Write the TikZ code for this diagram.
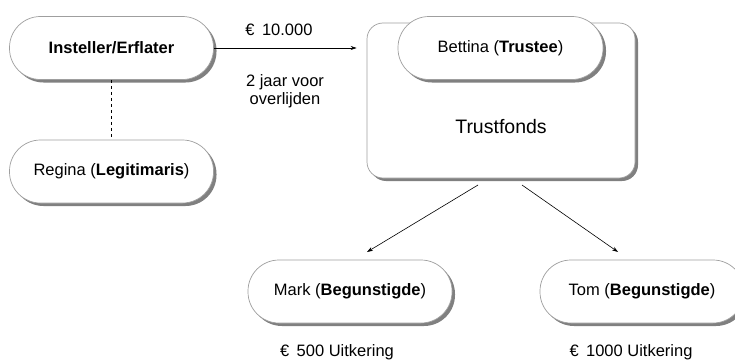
\documentclass[tikz,border=0pt]{standalone}
\usepackage{fontspec}
\setmainfont{Liberation Sans}
\usetikzlibrary{arrows.meta,calc}

\tikzset{
  every node/.style={font=\fontsize{16.5}{18}\selectfont},
  pill/.style={rectangle, rounded corners=31pt, minimum width=204pt, minimum height=63pt,
    draw=gray!75, line width=0.7pt, fill=white, inner sep=0pt,
    preaction={fill=black!50, transform canvas={shift={(3pt,-3pt)}}}},
  fund/.style={rectangle, rounded corners=16pt, minimum width=268pt, minimum height=155pt,
    draw=gray!75, line width=0.7pt, fill=white, inner sep=0pt,
    preaction={fill=black!50, transform canvas={shift={(3pt,-3pt)}}}},
  flow/.style={-{Stealth[length=6pt,width=4pt]}, line width=0.6pt},
  lbl/.style={align=center, inner sep=0pt}
}

\begin{document}
\begin{tikzpicture}[x=1pt,y=-1pt]
  \useasboundingbox (0,0) rectangle (735,361);

  % people and the trust fund
  \node[pill] (inst) at (111.5,48) {\textbf{Insteller/Erflater}};
  \node[pill] (regina) at (111.5,171.5) {Regina (\textbf{Legitimaris})};
  \node[fund] (trust) at (501,100.5) {};
  \node[lbl, font=\fontsize{19.5}{22}\selectfont] (fundname) at (501,127) {Trustfonds};
  \node[pill, minimum width=205pt] (bettina) at (500.5,48) {Bettina (\textbf{Trustee})};
  \node[pill] (mark) at (350,291.5) {Mark (\textbf{Begunstigde})};
  \node[pill] (tom) at (642,291.5) {Tom (\textbf{Begunstigde})};

  % amounts and timing
  \node[lbl] (gift) at (279,30) {€\hspace{0.45em}10.000};
  \node[lbl] (when) at (285,91) {2 jaar voor\\overlijden};
  \node[lbl] (paymark) at (337,352) {€\hspace{0.45em}500 Uitkering};
  \node[lbl] (paytom) at (631,352) {€\hspace{0.45em}1000 Uitkering};

  % connectors
  \draw[dashed, line width=0.6pt] (inst.south) -- (regina.north);
  \coordinate (giftend) at ($(inst.east -| trust.west)+(-10,0)$);
  \draw[flow] (inst.east) -- (giftend);

  \coordinate (outl) at (478,185);
  \coordinate (outr) at (522,185);
  \coordinate (inm) at (367,252);
  \coordinate (intm) at (618,252);
  \draw[flow] (outl) -- (inm);
  \draw[flow] (outr) -- (intm);
\end{tikzpicture}
\end{document}
